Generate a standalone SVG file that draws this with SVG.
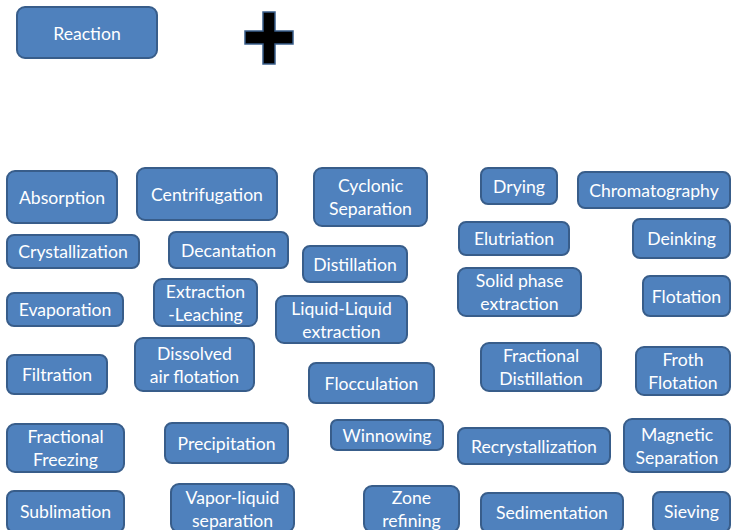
<svg xmlns="http://www.w3.org/2000/svg" width="732" height="530" viewBox="0 0 732 530">
<style>
.n rect{fill:#4F81BD;stroke:#385D8A;stroke-width:2}
.n text{fill:#fff;font-family:Lato,"Open Sans",sans-serif;font-size:17.6px;text-anchor:middle}
</style>
<rect width="732" height="530" fill="#fff"/>
<g id="plus"><path d="M263,12H275V31H293V44H275V64H263V44H245V31H263Z" fill="#000" stroke="#385D8A" stroke-width="1.5"/></g>
<g id="connectors"></g>
<g id="reaction" class="n"><rect x="17" y="7" width="140" height="51" rx="8"/><text x="87" y="39.5">Reaction</text></g>
<g id="absorption" class="n"><rect x="7" y="171" width="110" height="52" rx="8"/><text x="62" y="203.5">Absorption</text></g>
<g id="centrifugation" class="n"><rect x="137" y="168" width="140" height="52" rx="8"/><text x="207" y="200.5">Centrifugation</text></g>
<g id="cyclonic" class="n"><rect x="314" y="168" width="113" height="58" rx="8"/><text x="370.5" y="192">Cyclonic</text><text x="370.5" y="215">Separation</text></g>
<g id="drying" class="n"><rect x="481" y="168" width="76" height="36" rx="7"/><text x="519" y="192.5">Drying</text></g>
<g id="chromatography" class="n"><rect x="578" y="172" width="152" height="36" rx="7"/><text x="654" y="196.5">Chromatography</text></g>
<g id="crystallization" class="n"><rect x="7" y="235" width="132" height="33" rx="7"/><text x="73" y="258">Crystallization</text></g>
<g id="decantation" class="n"><rect x="169" y="232" width="119" height="36" rx="7"/><text x="228.5" y="256.5">Decantation</text></g>
<g id="distillation" class="n"><rect x="303" y="246" width="104" height="36" rx="7"/><text x="355" y="270.5">Distillation</text></g>
<g id="elutriation" class="n"><rect x="459" y="222" width="110" height="33" rx="7"/><text x="514" y="245">Elutriation</text></g>
<g id="deinking" class="n"><rect x="633" y="219" width="97" height="39" rx="7"/><text x="681.5" y="245">Deinking</text></g>
<g id="evaporation" class="n"><rect x="7" y="293" width="116" height="33" rx="7"/><text x="65" y="316">Evaporation</text></g>
<g id="extraction-leaching" class="n"><rect x="154" y="279" width="103" height="47" rx="8"/><text x="205.5" y="297.5">Extraction</text><text x="205.5" y="320.5">-Leaching</text></g>
<g id="liquid-liquid" class="n"><rect x="276" y="296" width="131" height="47" rx="8"/><text x="341.5" y="314.5">Liquid-Liquid</text><text x="341.5" y="337.5">extraction</text></g>
<g id="solid-phase" class="n"><rect x="458" y="268" width="123" height="48" rx="8"/><text x="519.5" y="287">Solid phase</text><text x="519.5" y="310">extraction</text></g>
<g id="flotation" class="n"><rect x="643" y="276" width="87" height="40" rx="7"/><text x="686.5" y="302.5">Flotation</text></g>
<g id="filtration" class="n"><rect x="7" y="355" width="100" height="39" rx="7"/><text x="57" y="381">Filtration</text></g>
<g id="dissolved-air" class="n"><rect x="135" y="338" width="119" height="53" rx="8"/><text x="194.5" y="359.5">Dissolved</text><text x="194.5" y="382.5">air flotation</text></g>
<g id="flocculation" class="n"><rect x="309" y="363" width="125" height="40" rx="7"/><text x="371.5" y="389.5">Flocculation</text></g>
<g id="fractional-distillation" class="n"><rect x="481" y="343" width="120" height="48" rx="8"/><text x="541" y="362">Fractional</text><text x="541" y="385">Distillation</text></g>
<g id="froth-flotation" class="n"><rect x="636" y="347" width="94" height="48" rx="8"/><text x="683" y="366">Froth</text><text x="683" y="389">Flotation</text></g>
<g id="fractional-freezing" class="n"><rect x="7" y="424" width="117" height="48" rx="8"/><text x="65.5" y="443">Fractional</text><text x="65.5" y="466">Freezing</text></g>
<g id="precipitation" class="n"><rect x="165" y="423" width="123" height="40" rx="7"/><text x="226.5" y="449.5">Precipitation</text></g>
<g id="winnowing" class="n"><rect x="331" y="420" width="112" height="30" rx="6"/><text x="387" y="441.5">Winnowing</text></g>
<g id="recrystallization" class="n"><rect x="458" y="428" width="152" height="36" rx="7"/><text x="534" y="452.5">Recrystallization</text></g>
<g id="magnetic" class="n"><rect x="624" y="419" width="106" height="53" rx="8"/><text x="677" y="440.5">Magnetic</text><text x="677" y="463.5">Separation</text></g>
<g id="sublimation" class="n"><rect x="7" y="491" width="117" height="41" rx="7"/><text x="65.5" y="517.5">Sublimation</text></g>
<g id="vapor-liquid" class="n"><rect x="171" y="484" width="123" height="48" rx="8"/><text x="232.5" y="503.5">Vapor-liquid</text><text x="232.5" y="526.5">separation</text></g>
<g id="zone-refining" class="n"><rect x="364" y="486" width="95" height="46" rx="8"/><text x="411.5" y="503.5">Zone</text><text x="411.5" y="526.5">refining</text></g>
<g id="sedimentation" class="n"><rect x="481" y="493" width="142" height="39" rx="7"/><text x="552" y="518.5">Sedimentation</text></g>
<g id="sieving" class="n"><rect x="653" y="492" width="77" height="40" rx="7"/><text x="691.5" y="517.5">Sieving</text></g>
</svg>
